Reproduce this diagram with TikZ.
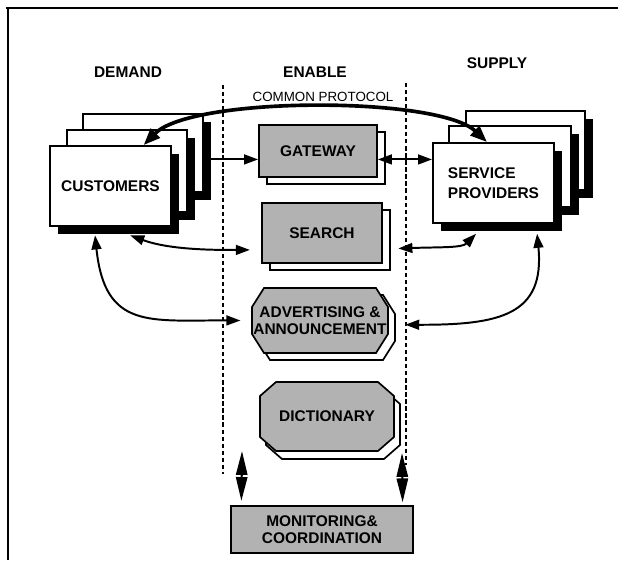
\documentclass[tikz,border=0pt]{standalone}
\usepackage{fontspec}
\setmainfont{Liberation Sans}
\usetikzlibrary{arrows.meta,shadows}

% octagon outline: x1, y1, x2, y2, corner cut in x, corner cut in y
\newcommand{\octo}[6]{(#1+#5,#2) -- (#3-#5,#2) -- (#3,#2+#6) -- (#3,#4-#6) -- (#3-#5,#4) -- (#1+#5,#4) -- (#1,#4-#6) -- (#1,#2+#6) -- cycle}

\tikzset{
  heading/.style={font=\bfseries\fontsize{11}{13}\selectfont},
  divider/.style={line width=1.2pt, dash pattern=on 3pt off 2pt},
  page/.style={draw, line width=1.3pt, fill=white, inner sep=0pt,
    font=\bfseries\fontsize{11}{14}\selectfont,
    drop shadow={fill=black, opacity=1, shadow xshift=5.5pt, shadow yshift=-5.5pt}},
  panel/.style={draw, line width=1.2pt, fill=black!30, inner sep=0pt,
    font=\bfseries\fontsize{11}{12}\selectfont, align=center},
  service/.style={panel,
    general shadow={fill=white, draw=black, line width=1.2pt, shadow xshift=5.5pt, shadow yshift=-5pt}},
  backcopy/.style={draw, line width=1.2pt, fill=white},
  label/.style={inner sep=0pt, font=\bfseries\fontsize{11}{12}\selectfont, align=center},
  link/.style={line width=1.4pt, <->},
  diamond tip/.style={line width=1.5pt, {Triangle[length=17pt,width=8pt]}-{Triangle[length=17pt,width=8pt]}},
}

\begin{document}
\begin{tikzpicture}[x=0.025cm, y=-0.025cm, >={Triangle[length=10pt,width=7pt]}]
  \useasboundingbox (0,0) rectangle (618,560);
  % frame
  \draw[line width=1.4pt] (6,8) -- (618,8);
  \draw[line width=1.2pt] (8,8) -- (8,560);

  % column titles
  \node[heading] (demand) at (128,72) {DEMAND};
  \node[heading] (enable) at (315,72) {ENABLE};
  \node[heading] (supply) at (497,63) {SUPPLY};
  \node[font=\fontsize{9.5}{11}\selectfont] (protocol) at (323,97) {COMMON PROTOCOL};

  % enabling layer
  \draw[divider] (223,85) -- (223,474);
  \draw[divider] (406,83) -- (406,465);

  % demand side
  \node[page, minimum width=3cm, minimum height=1.95cm] (cust3) at (143,153) {};
  \node[page, minimum width=3cm, minimum height=2.05cm] (cust2) at (127,171) {};
  \node[page, minimum width=3.025cm, minimum height=2cm] (cust1) at (110.5,186) {CUSTOMERS};

  % supply side
  \node[page, minimum width=2.975cm, minimum height=1.975cm] (prov3) at (525.5,150.5) {};
  \node[page, minimum width=3.05cm, minimum height=2.025cm] (prov2) at (510,166.5) {};
  \node[page, minimum width=3.025cm, minimum height=2cm, align=left] (prov1) at (493.5,183) {SERVICE\\PROVIDERS};

  % services
  \node[service, minimum width=2.95cm, minimum height=1.3cm] (gateway) at (318,151) {GATEWAY};
  \node[service, minimum width=3cm, minimum height=1.5cm] (search) at (322,233) {SEARCH};
  \draw[backcopy] \octo{258}{295}{395}{360}{12}{19};
  \draw[panel] \octo{252}{288}{388}{353}{12}{19};
  \node[label, minimum width=3.4cm, minimum height=1.625cm] (advert) at (320,320.5) {ADVERTISING \&\\ANNOUNCEMENT};
  \draw[backcopy] \octo{266}{390}{400}{459}{16}{14};
  \draw[panel] \octo{260}{382}{394}{451}{16}{14};
  \node[label, minimum width=3.35cm, minimum height=1.725cm] (dict) at (327,416.5) {DICTIONARY};
  \node[panel, minimum width=4.55cm, minimum height=1.175cm] (monitor) at (322,529.5) {MONITORING\&\\COORDINATION};

  % connections
  \draw[line width=2.6pt, {Triangle[length=12pt,width=9pt]}-{Triangle[length=12pt,width=9pt]}]
    (cust1.51) .. controls (192,96) and (438,96) .. (prov1.99);
  \coordinate (gwin) at ([yshift=-6pt]gateway.west);
  \coordinate (gwout) at ([yshift=-6pt]gateway.east);
  \draw[line width=1.4pt, ->] (cust3.east |- gwin) -- (gwin);
  \draw[link] (gwout) -- (prov1.west |- gwout);

  \draw[link] ([xshift=14pt,yshift=-6pt]cust1.south) .. controls (170,250) and (215,250) .. ([xshift=-8pt,yshift=-12pt]search.west);
  \draw[link] ([xshift=-11pt,yshift=-6pt]cust1.south) .. controls (105,330) and (150,320) .. ([xshift=-8pt]advert.west);
  \draw[link] ([xshift=11pt,yshift=-11pt]search.east) .. controls (440,247) and (462,248) .. ([xshift=-12.4pt,yshift=-7pt]prov1.south);
  \draw[link] ([xshift=12pt,yshift=-3pt]advert.east) .. controls (500,325) and (545,315) .. ([xshift=31pt,yshift=-7pt]prov1.south);

  \coordinate (mleft) at ([xshift=8pt,yshift=3pt]monitor.north west);
  \coordinate (mright) at ([xshift=-8pt,yshift=2pt]monitor.north east);
  \coordinate (ltop) at (242,451);
  \coordinate (rtop) at (402,453);
  \draw[diamond tip] (ltop) -- (mleft);
  \draw[diamond tip] (rtop) -- (mright);
\end{tikzpicture}
\end{document}
